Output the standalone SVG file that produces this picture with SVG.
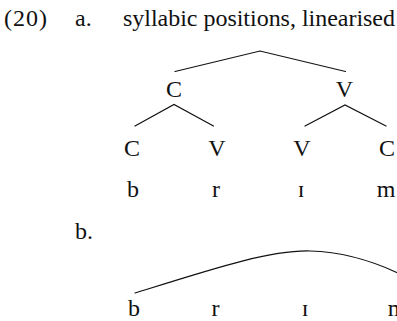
<svg xmlns="http://www.w3.org/2000/svg" width="397" height="321" viewBox="0 0 397 321">
  <style>
    text { font-family: "Liberation Serif", "Times New Roman", serif; font-size: 24px; fill: #111; }
    .m { text-anchor: middle; }
    .edge { stroke: #111; stroke-width: 1.2; fill: none; stroke-linecap: round; }
  </style>
  <rect width="397" height="321" fill="#fff"/>
  <g id="header">
    <text x="4" y="26" textLength="43" lengthAdjust="spacing">(20)</text>
    <text x="75" y="26">a.</text>
    <text x="123" y="26" textLength="272" lengthAdjust="spacing">syllabic positions, linearised</text>
  </g>
  <g id="connectors">
    <polyline class="edge" points="175,71.5 260,51 345.5,71.5"/>
    <polyline class="edge" points="135,126 174,104.5 213.5,126"/>
    <polyline class="edge" points="305,126 345,105 386,126"/>
    <path class="edge" d="M135,293 C215,268 270,250 310,251 C345,252 375,262 400,274"/>
  </g>
  <g id="node-C1"><text class="m" x="174" y="97">C</text></g>
  <g id="node-V1"><text class="m" x="344.5" y="97">V</text></g>
  <g id="node-C2"><text class="m" x="132" y="156">C</text></g>
  <g id="node-V2"><text class="m" x="217" y="156">V</text></g>
  <g id="node-V3"><text class="m" x="302" y="156">V</text></g>
  <g id="node-C3"><text class="m" x="387" y="156">C</text></g>
  <g id="segments-a">
    <text class="m" x="133" y="197">b</text>
    <text class="m" x="216" y="197">r</text>
    <text class="m" x="301" y="197">ɪ</text>
    <text class="m" x="386" y="197">m</text>
  </g>
  <g id="label-b"><text x="75" y="239">b.</text></g>
  <g id="segments-b">
    <text class="m" x="134" y="316">b</text>
    <text class="m" x="215.5" y="316">r</text>
    <text class="m" x="305" y="316">ɪ</text>
    <text class="m" x="397" y="316">m</text>
  </g>
</svg>
